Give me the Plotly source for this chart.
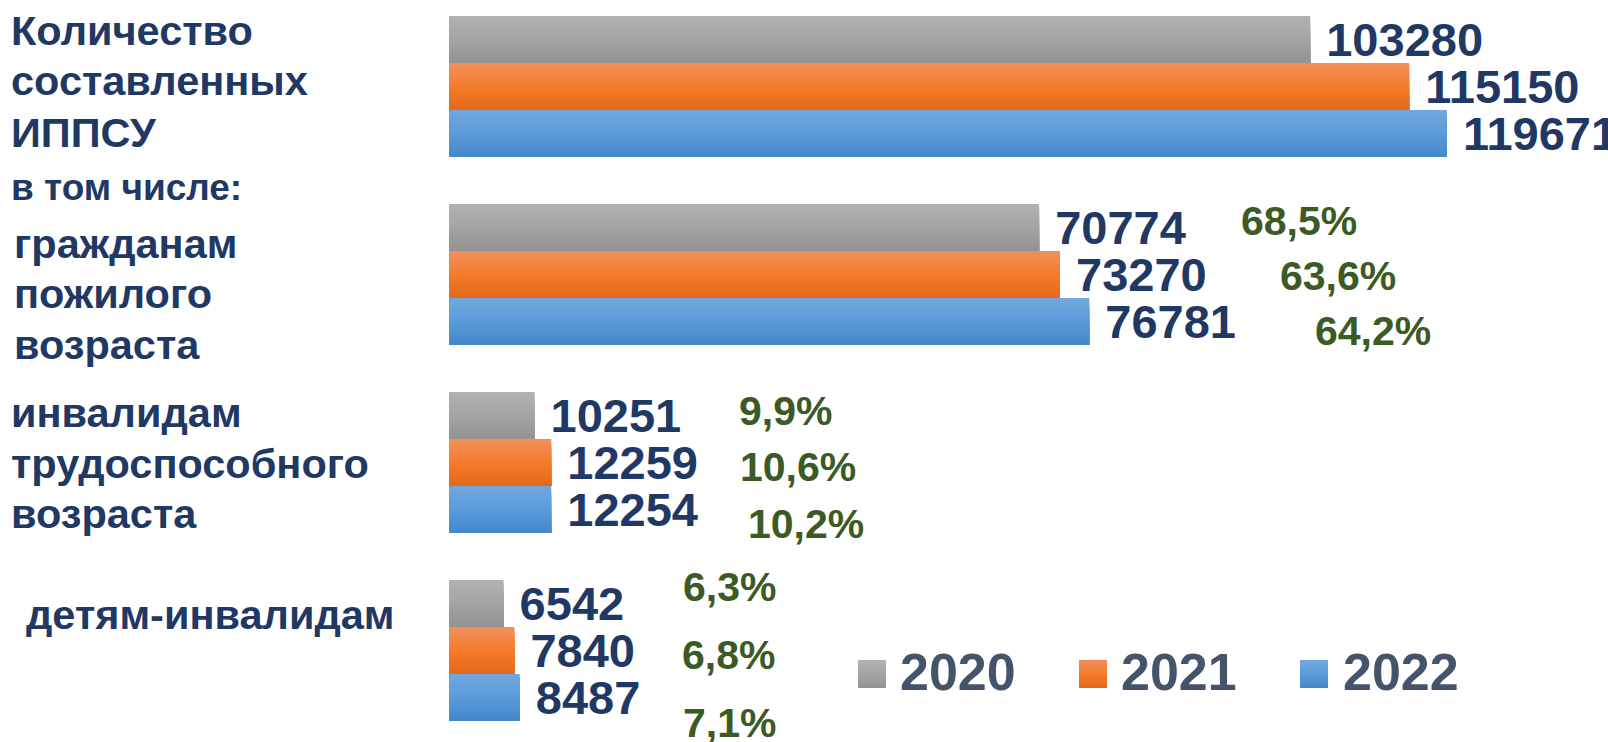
import plotly.graph_objects as go

# ---------------- data ----------------
CATEGORY_LINES = [
    ["Количество", "составленных", "ИППСУ"],
    ["гражданам", "пожилого", "возраста"],
    ["инвалидам", "трудоспособного", "возраста"],
    ["детям-инвалидам"],
]
SUBHEAD = "в том числе:"
YEARS = ["2020", "2021", "2022"]
V2020 = [103280, 70774, 10251, 6542]
V2021 = [115150, 73270, 12259, 7840]
V2022 = [119671, 76781, 12254, 8487]
SHARE_2020 = [None, 68.5, 9.9, 6.3]
SHARE_2021 = [None, 63.6, 10.6, 6.8]
SHARE_2022 = [None, 64.2, 10.2, 7.1]

SERIES = [V2020, V2021, V2022]
SHARES = [SHARE_2020, SHARE_2021, SHARE_2022]

# ---------------- style ----------------
W, H = 1608, 742
ML = 449                      # left edge of plot area (px)
XMAX = 139000
YRANGE = [3.487, -0.460]
BAR_H = 0.25
BASE_OFF = [-0.375, -0.125, 0.125]
NSLICE = 16
FONT = "Liberation Sans, Arial, sans-serif"
NAVY = "#1F3864"
GREEN = "#3B5A24"
LEG_COL = "#44546A"
GRAD = [
    ["#B1B1B1", "#A4A4A4", "#939393"],
    ["#F08E5A", "#F47C2A", "#E5691A"],
    ["#71A7DE", "#5B9BDB", "#4589CA"],
]
# pixel nudges for the share labels (dx from bar end, dy from bar centre)
PCT_NUDGE = [
    [None, (200, -6), (203, -4), (177, -16)],
    [None, (218, 2), (187, 5), (166, 5)],
    [None, (224, 10), (195, 15), (161, 26)],
]
LABEL_X = [9, 12, 9, 24]
LABEL_BASE = [[45, 95, 147], [258, 308, 359], [427, 478, 528], [629]]
LABEL_SIZE = 41.5
SUB_X, SUB_BASE, SUB_SIZE = 9, 200, 37
VAL_SIZE = 47
PCT_SIZE = 41
LEG_SQ_X = [858, 1079, 1300]
LEG_TX_X = [898, 1119, 1341]
LEG_SQ_Y, LEG_SQ = 660, 28
LEG_TY = 672


def hex2rgb(h):
    h = h.lstrip("#")
    return tuple(int(h[i:i + 2], 16) for i in (0, 2, 4))


def grad_color(stops, t):
    seg = t * (len(stops) - 1)
    i = min(int(seg), len(stops) - 2)
    f = seg - i
    a, b = hex2rgb(stops[i]), hex2rgb(stops[i + 1])
    c = [round(a[j] + (b[j] - a[j]) * f) for j in range(3)]
    return "rgb(%d,%d,%d)" % tuple(c)


def px(x):
    return (x - ML) / (W - ML)


def py(y):
    return 1 - y / H


cat_idx = list(range(len(CATEGORY_LINES)))
fig = go.Figure()

for s, vals in enumerate(SERIES):
    for k in range(NSLICE):
        t = k / (NSLICE - 1)
        kw = {}
        if k == 0:
            kw = dict(
                text=["\u00a0" + str(v) for v in vals],
                texttemplate="%{text}",
                textposition="outside",
                constraintext="none",
                cliponaxis=False,
                textfont=dict(family=FONT, size=VAL_SIZE, color=NAVY, weight="bold"),
            )
        fig.add_trace(go.Bar(
            x=vals, y=cat_idx, orientation="h",
            width=BAR_H * (1 - k / NSLICE),
            offset=BASE_OFF[s] + BAR_H * k / NSLICE,
            marker=dict(color=grad_color(GRAD[s], t), line=dict(width=0)),
            name=YEARS[s], showlegend=False,
            hoverinfo="x+name" if k == 0 else "skip",
            **kw,
        ))

annotations = []
# share labels
for s, shares in enumerate(SHARES):
    for i, p in enumerate(shares):
        if p is None:
            continue
        dx, dy = PCT_NUDGE[s][i]
        annotations.append(dict(
            x=SERIES[s][i], y=i + BASE_OFF[s] + BAR_H / 2, xref="x", yref="y",
            text=("%.1f" % p).replace(".", ",") + "%",
            showarrow=False, xanchor="left", yanchor="middle",
            xshift=dx, yshift=-dy,
            font=dict(family=FONT, size=PCT_SIZE, color=GREEN, weight="bold"),
        ))

# category labels
for i, lines in enumerate(CATEGORY_LINES):
    for ln, base in zip(lines, LABEL_BASE[i]):
        annotations.append(dict(
            x=px(LABEL_X[i]), y=py(base - 0.3465 * LABEL_SIZE), xref="paper", yref="paper",
            text=ln, showarrow=False, xanchor="left", yanchor="middle",
            font=dict(family=FONT, size=LABEL_SIZE, color=NAVY, weight="bold"),
        ))
annotations.append(dict(
    x=px(SUB_X), y=py(SUB_BASE - 0.3465 * SUB_SIZE), xref="paper", yref="paper",
    text=SUBHEAD, showarrow=False, xanchor="left", yanchor="middle",
    font=dict(family=FONT, size=SUB_SIZE, color=NAVY, weight="bold"),
))

# legend (manual, gradient squares)
shapes = []
for s, yr in enumerate(YEARS):
    for k in range(NSLICE):
        t = k / (NSLICE - 1)
        y0 = LEG_SQ_Y + LEG_SQ * k / NSLICE
        shapes.append(dict(
            type="rect", xref="paper", yref="paper",
            x0=px(LEG_SQ_X[s]), x1=px(LEG_SQ_X[s] + LEG_SQ),
            y0=py(y0), y1=py(LEG_SQ_Y + LEG_SQ),
            line=dict(width=0), fillcolor=grad_color(GRAD[s], t), layer="above",
        ))
    annotations.append(dict(
        x=px(LEG_TX_X[s]), y=py(LEG_TY), xref="paper", yref="paper",
        text=yr, showarrow=False, xanchor="left", yanchor="middle",
        font=dict(family=FONT, size=52, color=LEG_COL, weight="bold"),
    ))

fig.update_layout(
    width=W, height=H,
    margin=dict(l=ML, r=0, t=0, b=0),
    paper_bgcolor="white", plot_bgcolor="white",
    barmode="overlay",
    showlegend=False,
    xaxis=dict(range=[0, XMAX], visible=False, fixedrange=True),
    yaxis=dict(range=YRANGE, visible=False, fixedrange=True),
    annotations=annotations,
    shapes=shapes,
    font=dict(family=FONT),
)

fig.write_html("out.html", config={"displayModeBar": False},
               post_script="document.body.style.margin='0';")
